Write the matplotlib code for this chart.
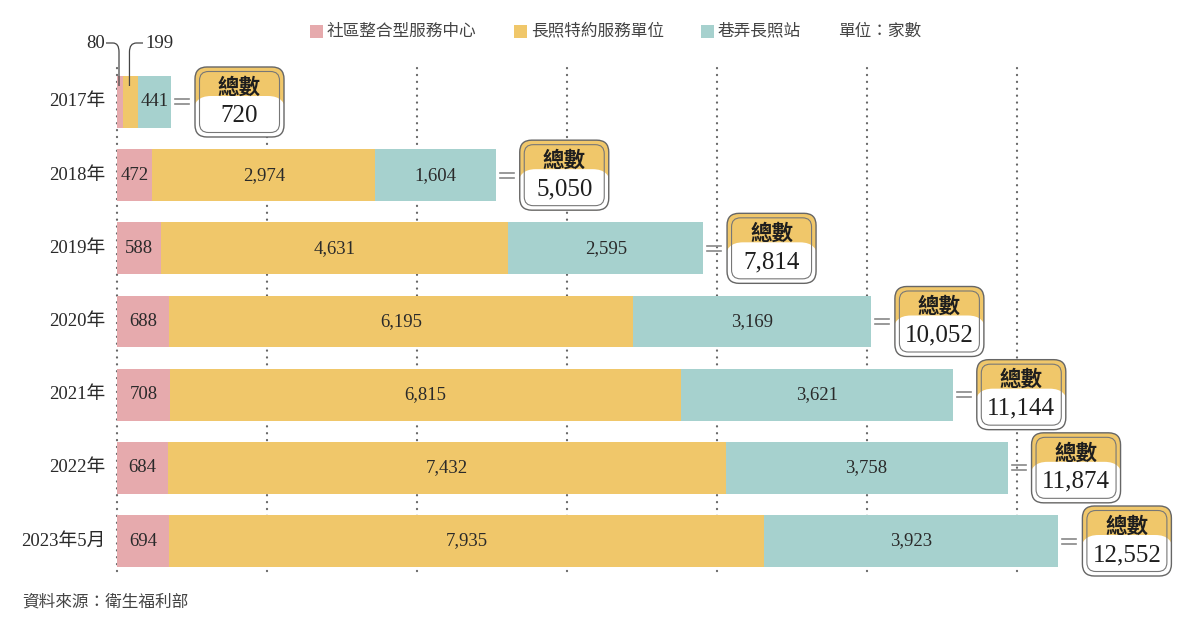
import matplotlib
matplotlib.use("Agg")
import matplotlib.pyplot as plt
from matplotlib.patches import FancyBboxPatch, Rectangle, PathPatch
from matplotlib.path import Path

# data
years = ['2017年', '2018年', '2019年', '2020年', '2021年', '2022年', '2023年5月']
community = [80, 472, 588, 688, 708, 684, 694]
ltc_units = [199, 2974, 4631, 6195, 6815, 7432, 7935]
alley = [441, 1604, 2595, 3169, 3621, 3758, 3923]
totals = [720, 5050, 7814, 10052, 11144, 11874, 12552]
series_names = ['社區整合型服務中心', '長照特約服務單位', '巷弄長照站']
unit_text = '單位：家數'
source_text = '資料來源：衛生福利部'
grid_ticks = [0, 2000, 4000, 6000, 8000, 10000, 12000]

PINK = '#E6AAAD'
YELLOW = '#F0C76A'
TEAL = '#A6D1CE'
colors = [PINK, YELLOW, TEAL]

SERIF = ['Liberation Serif', 'Noto Sans CJK TC']
SANS = ['Noto Sans CJK TC', 'DejaVu Sans']
W, H = 1200, 631

fig = plt.figure(figsize=(W / 100, H / 100), dpi=100)
ax = fig.add_axes([0, 0, 1, 1])
ax.set_xlim(-1560, 14440)
ax.set_ylim(7.23, -1.394)
ax.axis('off')

# dotted grid
for g in grid_ticks:
	ax.plot([g, g], [-0.465, 6.46], color='#666666', lw=1.6, dashes=(0.1, 3.0),
		dash_capstyle='round', zorder=0)

# stacked bars
ypos = list(range(len(years)))
lefts = [0] * len(years)
for vals, c in zip([community, ltc_units, alley], colors):
	ax.barh(ypos, vals, left=lefts, height=0.71, color=c, zorder=2)
	for i, v in enumerate(vals):
		if not (i == 0 and vals is not alley):
			ax.text(lefts[i] + v / 2, i, f'{v:,}', ha='center', va='center',
				family=SERIF, fontsize=13.5, color='#2a2a2a', zorder=3)
	lefts = [l + v for l, v in zip(lefts, vals)]

for i, y in enumerate(years):
	ax.text(-160, i, y, ha='right', va='center', family=SERIF, fontsize=13.5, color='#2a2a2a')

# overlay in pixel coords
ov = fig.add_axes([0, 0, 1, 1], zorder=5)
ov.set_xlim(0, W)
ov.set_ylim(H, 0)
ov.axis('off')

def to_px(x, y):
	d = ax.transData.transform((x, y))
	return d[0], H - d[1]

# total boxes
for i, t in enumerate(totals):
	end, cy = to_px(t, i)
	for dy in (-2.5, 2.5):
		ov.plot([end + 4, end + 18], [cy + dy, cy + dy], color='#888888', lw=1.2)
	w, h = 89, 70
	left, top = end + 24, cy - h / 2
	outer = FancyBboxPatch((left, top), w, h, boxstyle='round,pad=0,rounding_size=12',
		fc=YELLOW, ec='none')
	ov.add_patch(outer)
	white = FancyBboxPatch((left - 2, cy - 6), w + 4, h, boxstyle='round,pad=0,rounding_size=18',
		fc='white', ec='none')
	ov.add_patch(white)
	white.set_clip_path(outer)
	ov.add_patch(FancyBboxPatch((left + 4.5, top + 4.5), w - 9, h - 9,
		boxstyle='round,pad=0,rounding_size=9', fc='none', ec='#777777', lw=0.8))
	ov.add_patch(FancyBboxPatch((left, top), w, h, boxstyle='round,pad=0,rounding_size=12',
		fc='none', ec='#666666', lw=1.0))
	ov.text(left + w / 2, top + 20, '總數', ha='center', va='center', family=SANS,
		fontsize=15.5, fontweight='bold', color='#1e1e1e')
	ov.text(left + w / 2, top + 49, f'{t:,}', ha='center', va='center', family=SERIF,
		fontsize=18, color='#1e1e1e')

# 2017 small values with leader lines
px80, _ = to_px(community[0] / 2, 0)
px199, _ = to_px(community[0] + ltc_units[0] / 2, 0)
ly = 43
p1 = Path([(106, ly), (113, ly), (px80 - 1, ly), (px80 - 1, ly + 9), (px80 - 1, 86)],
	[Path.MOVETO, Path.LINETO, Path.CURVE3, Path.CURVE3, Path.LINETO])
p2 = Path([(143, ly), (px199 + 6, ly), (px199 - 1, ly), (px199 - 1, ly + 9), (px199 - 1, 86)],
	[Path.MOVETO, Path.LINETO, Path.CURVE3, Path.CURVE3, Path.LINETO])
for p in (p1, p2):
	ov.add_patch(PathPatch(p, fc='none', ec='#444444', lw=0.9))
ov.text(105, ly, f'{community[0]}', ha='right', va='center', family=SERIF, fontsize=13.5, color='#2a2a2a')
ov.text(145, ly, f'{ltc_units[0]}', ha='left', va='center', family=SERIF, fontsize=13.5, color='#2a2a2a')

# legend
leg_x = [310, 514, 701]
for x, c, name in zip(leg_x, colors, series_names):
	ov.add_patch(Rectangle((x, 24.5), 13, 13, fc=c, ec='none'))
	ov.text(x + 17, 31, name, ha='left', va='center', family=SANS, fontsize=12, color='#444444')
ov.text(838, 31, unit_text, ha='left', va='center', family=SANS, fontsize=12, color='#444444')

ov.text(22, 602, source_text, ha='left', va='center', family=SANS, fontsize=12, color='#444444')

fig.savefig('out.png', dpi=100)
